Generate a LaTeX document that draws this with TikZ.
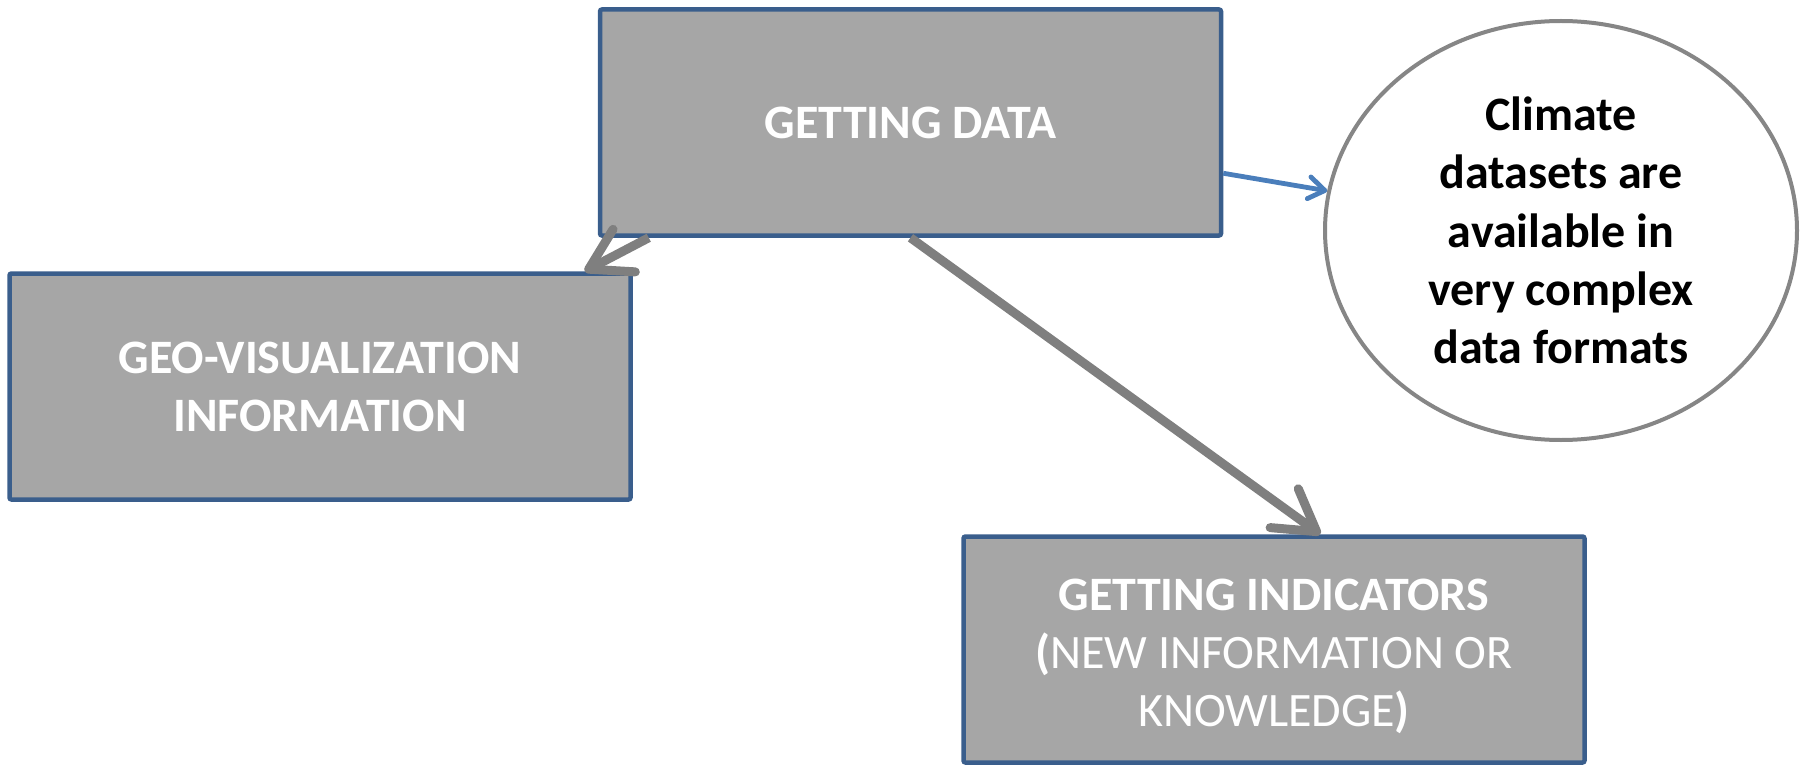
\documentclass[tikz,border=0pt]{standalone}
\usepackage{fontspec}
\setmainfont{Carlito}
\usetikzlibrary{arrows.meta,shapes.geometric}
\definecolor{boxfill}{HTML}{A6A6A6}
\definecolor{boxline}{HTML}{3A5E8C}
\definecolor{arrowgray}{HTML}{7F7F7F}
\definecolor{ovalline}{HTML}{868686}
\definecolor{linkblue}{HTML}{4A7EBB}
\begin{document}
\begin{tikzpicture}[x=0.5pt,y=-0.5pt,
  stagebox/.style={draw=boxline, line width=2.25pt, fill=boxfill, rounded corners=1pt,
    minimum width=310.5pt, minimum height=113pt, inner sep=0pt, text=white,
    font=\fontsize{24}{29}\selectfont\bfseries, align=center},
  notebubble/.style={ellipse, draw=ovalline, line width=2pt, fill=white,
    minimum width=236pt, minimum height=209.5pt, inner sep=0pt, text=black,
    font=\fontsize{24}{29.2}\selectfont\bfseries, align=center},
  flowarrow/.style={draw=arrowgray, line width=4.5pt,
    -{Straight Barb[length=20pt, width=24pt, round]}},
  notearrow/.style={draw=linkblue, line width=2.4pt,
    -{Straight Barb[length=8pt, width=11pt, round]}}]
  \useasboundingbox (0,0) rectangle (1806,765);

  % stages
  \node[stagebox] (data) at (910.5,122.5) {GETTING DATA};
  \node[stagebox] (geo) at (320,386.5) {GEO-VISUALIZATION\\INFORMATION};
  \node[stagebox] (ind) at (1274,649.5)
    {\rule{0pt}{23pt}GETTING INDICATORS\\\textbf{(}\mdseries NEW INFORMATION OR\\\mdseries KNOWLEDGE\textbf{)}};

  % side note
  \node[notebubble] (note) at (1561,230.5)
    {Climate\\datasets are\\available in\\very complex\\data formats};

  % attachment points along the box edges
  \coordinate (dataR) at ([yshift=-83pt]data.north east);
  \coordinate (dataBL) at ([xshift=25.5pt]data.south west);
  \coordinate (geoT) at ([xshift=-24pt]geo.north east);
  \coordinate (indT) at ([xshift=179.5pt]ind.north west);

  % connectors
  \draw[notearrow] (dataR) -- (note);
  \draw[flowarrow] (dataBL) -- (geoT);
  \draw[flowarrow] (data.south) -- (indT);
\end{tikzpicture}
\end{document}
